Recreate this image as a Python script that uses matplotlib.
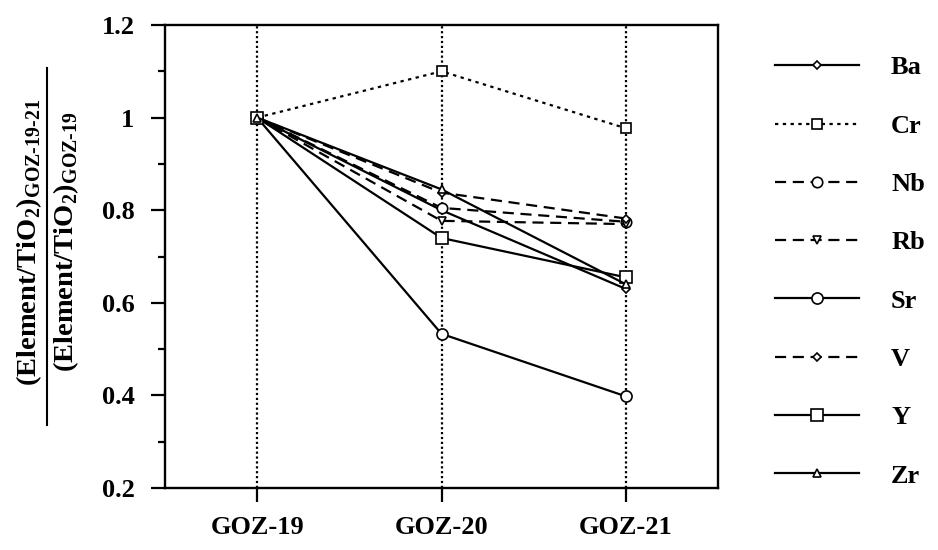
import matplotlib; matplotlib.use('Agg')
import matplotlib.pyplot as plt
from matplotlib.lines import Line2D
from matplotlib.ticker import MultipleLocator

plt.rcParams['font.family'] = ['Liberation Serif', 'DejaVu Serif']
plt.rcParams['font.weight'] = 'bold'
plt.rcParams['mathtext.fontset'] = 'custom'
plt.rcParams['mathtext.rm'] = 'Liberation Serif'
plt.rcParams['mathtext.bf'] = 'Liberation Serif:bold'

samples = ['GOZ-19', 'GOZ-20', 'GOZ-21']
elements = ['Ba', 'Cr', 'Nb', 'Rb', 'Sr', 'V', 'Y', 'Zr']
ba = [1.0, 0.800, 0.630]
cr = [1.0, 1.100, 0.977]
nb = [1.0, 0.805, 0.775]
rb = [1.0, 0.777, 0.770]
sr = [1.0, 0.533, 0.398]
v = [1.0, 0.838, 0.782]
y = [1.0, 0.740, 0.655]
zr = [1.0, 0.845, 0.640]
yticks = [0.2, 0.4, 0.6, 0.8, 1.0, 1.2]
yticklabels = ['0.2', '0.4', '0.6', '0.8', '1', '1.2']

series = dict(Ba=ba, Cr=cr, Nb=nb, Rb=rb, Sr=sr, V=v, Y=y, Zr=zr)
dash = (0, (5, 3))
dot = (0, (1.5, 2))
styles = {
    'Ba': ('-', 'D', 4.5),
    'Cr': (dot, 's', 7.5),
    'Nb': (dash, 'o', 7.5),
    'Rb': (dash, 'v', 6),
    'Sr': ('-', 'o', 8),
    'V': (dash, 'D', 4.5),
    'Y': ('-', 's', 8),
    'Zr': ('-', '^', 6),
}

fig = plt.figure(figsize=(9.38, 5.5), dpi=100)
ax = fig.add_axes([165/938, 1-488/550, (718-165)/938, (488-25)/550])

xs = range(len(samples))
for xi in xs:
    ax.axvline(xi, color='black', ls=(0, (1, 1.2)), lw=1.6, zorder=1)

handles = []
for name in elements:
    ls, mk, ms = styles[name]
    ln, = ax.plot(xs, series[name], color='black', ls=ls, lw=1.6, marker=mk,
                  ms=ms, mfc='white', mec='black', mew=1.2, label=name, zorder=3)
    handles.append(ln)

ax.set_xlim(-0.5, 2.5)
ax.set_ylim(0.2, 1.2)
ax.set_xticks(list(xs))
ax.set_xticklabels(samples, fontsize=19, fontweight='bold')
ax.set_yticks(yticks)
ax.set_yticklabels(yticklabels, fontsize=19, fontweight='bold')
ax.yaxis.set_minor_locator(MultipleLocator(0.1))
ax.tick_params(axis='both', which='major', direction='out', length=10, width=1.6, pad=10)
ax.tick_params(axis='y', which='minor', direction='out', length=5, width=1.6)
ax.tick_params(axis='y', pad=12)
for s in ax.spines.values():
    s.set_linewidth(1.7)

# fraction-style y label
fig.text(29/938, 1-242/550, r'(Element/TiO$_{\mathbf{2}}$)$_{\mathbf{GOZ\text{-}19\text{-}21}}$',
         rotation=90, ha='center', va='center', fontsize=20.5, fontweight='bold')
fig.text(66/938, 1-242/550, r'(Element/TiO$_{\mathbf{2}}$)$_{\mathbf{GOZ\text{-}19}}$',
         rotation=90, ha='center', va='center', fontsize=20.5, fontweight='bold')
fig.add_artist(Line2D([47/938, 47/938], [1-68/550, 1-425/550], color='black', lw=1.5,
                      transform=fig.transFigure))

fig.legend(handles=handles, loc='upper left', bbox_to_anchor=(775/938, 1-56/550),
           frameon=False, fontsize=19, handlelength=3.2, handletextpad=1.2,
           labelspacing=1.32, numpoints=1, borderpad=0, borderaxespad=0)

fig.savefig('out.png', dpi=100)
